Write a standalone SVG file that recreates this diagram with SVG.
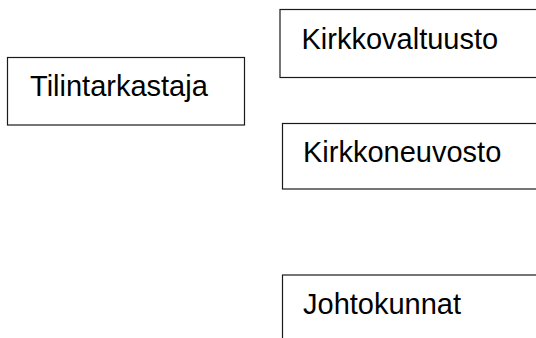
<svg xmlns="http://www.w3.org/2000/svg" width="536" height="338" viewBox="0 0 536 338">
<style>
.box{fill:#fff;stroke:#1a1a1a;stroke-width:1.2}
.lbl{font-family:"Liberation Sans",Arial,sans-serif;font-size:29px;fill:#000}
</style>
<rect width="536" height="338" fill="#fff"/>
<g id="connectors"></g>
<g id="tilintarkastaja">
<rect class="box" x="7.5" y="57.5" width="237" height="67.5"/>
<text class="lbl" x="30" y="96">Tilintarkastaja</text>
</g>
<g id="kirkkovaltuusto">
<rect class="box" x="280" y="9.5" width="270" height="68"/>
<text class="lbl" x="301.5" y="48.5">Kirkkovaltuusto</text>
</g>
<g id="kirkkoneuvosto">
<rect class="box" x="282.5" y="123.5" width="270" height="65.5"/>
<text class="lbl" x="303" y="162">Kirkkoneuvosto</text>
</g>
<g id="johtokunnat">
<rect class="box" x="282.5" y="275" width="270" height="80"/>
<text class="lbl" x="303" y="313.5">Johtokunnat</text>
</g>
</svg>
